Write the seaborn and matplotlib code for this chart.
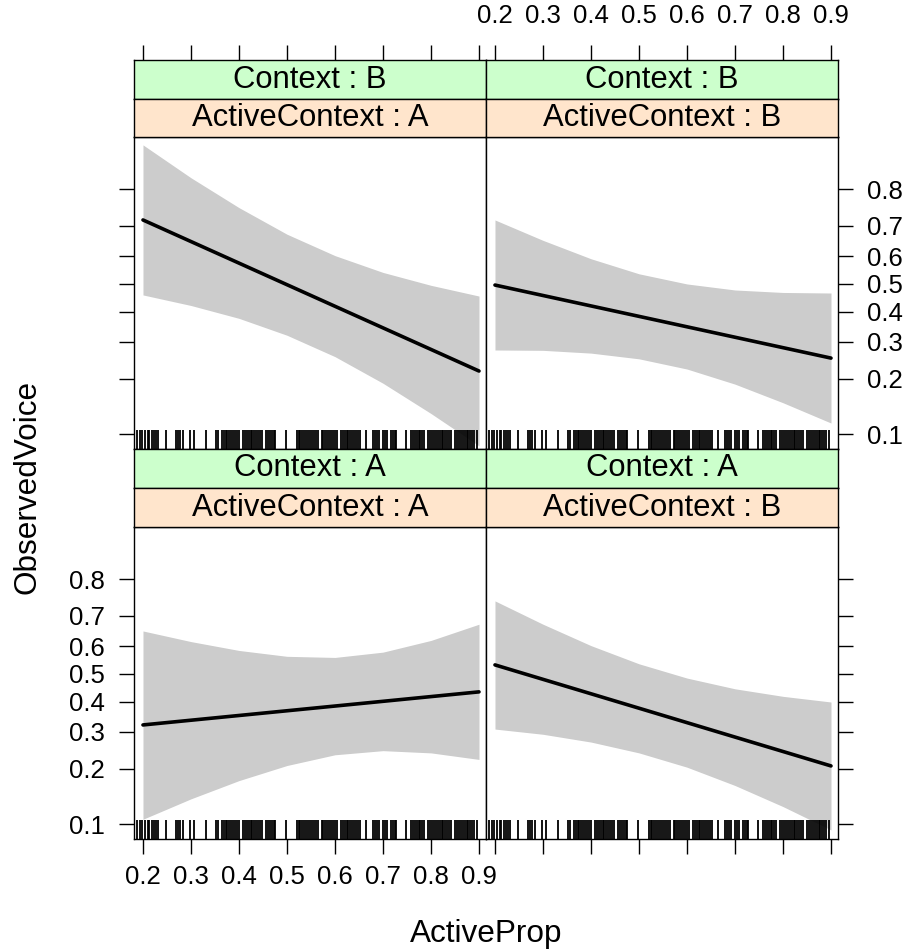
import numpy as np
import pandas as pd
import matplotlib
matplotlib.use("Agg")
import matplotlib.pyplot as plt
import seaborn as sns
from matplotlib.ticker import NullLocator, FixedLocator, FixedFormatter

# ---------------- data ----------------
x_grid = [0.2, 0.3, 0.4, 0.5, 0.6, 0.7, 0.8, 0.9]
fit_x = [0.2, 0.9]
x_ticks = [0.2, 0.3, 0.4, 0.5, 0.6, 0.7, 0.8, 0.9]
x_tick_labels = ["0.2", "0.3", "0.4", "0.5", "0.6", "0.7", "0.8", "0.9"]
y_ticks = [0.1, 0.2, 0.3, 0.4, 0.5, 0.6, 0.7, 0.8]
y_tick_labels = ["0.1", "0.2", "0.3", "0.4", "0.5", "0.6", "0.7", "0.8"]

context = ["B", "B", "A", "A"]
active_context = ["A", "B", "A", "B"]

# panel Context B / ActiveContext A
fit_BA = [0.718, 0.219]
upper_BA = [0.884, 0.825, 0.753, 0.674, 0.602, 0.542, 0.495, 0.456]
lower_BA = [0.460, 0.422, 0.377, 0.321, 0.257, 0.190, 0.131, 0.086]
# panel Context B / ActiveContext B
fit_BB = [0.496, 0.253]
upper_BB = [0.718, 0.654, 0.591, 0.537, 0.500, 0.478, 0.469, 0.467]
lower_BB = [0.276, 0.275, 0.267, 0.251, 0.224, 0.188, 0.150, 0.116]
# panel Context A / ActiveContext A
fit_AA = [0.322, 0.435]
upper_AA = [0.652, 0.616, 0.585, 0.564, 0.560, 0.579, 0.620, 0.674]
lower_AA = [0.107, 0.139, 0.174, 0.208, 0.235, 0.246, 0.240, 0.223]
# panel Context A / ActiveContext B
fit_AB = [0.533, 0.207]
upper_AB = [0.744, 0.674, 0.602, 0.537, 0.485, 0.446, 0.419, 0.399]
lower_AB = [0.309, 0.293, 0.270, 0.240, 0.204, 0.164, 0.126, 0.093]

rug_x = [0.188, 0.194, 0.198, 0.204, 0.210, 0.213, 0.218, 0.222, 0.227, 0.232,
         0.248, 0.268, 0.272, 0.277, 0.284, 0.299, 0.307, 0.331,
         0.352, 0.356, 0.364, 0.368, 0.372, 0.376, 0.380, 0.384, 0.388, 0.392,
         0.396, 0.400, 0.408, 0.412, 0.416, 0.420, 0.424, 0.428, 0.432, 0.436,
         0.440, 0.444, 0.448, 0.456, 0.460, 0.464, 0.468, 0.472, 0.476,
         0.498,
         0.520, 0.524, 0.528, 0.532, 0.536, 0.540, 0.544, 0.548, 0.552, 0.556,
         0.560, 0.564, 0.572, 0.576, 0.580, 0.584, 0.588, 0.592, 0.596, 0.600,
         0.604, 0.612, 0.616, 0.620, 0.624, 0.628, 0.632, 0.636, 0.640, 0.644,
         0.648, 0.652,
         0.665,
         0.680, 0.684, 0.688, 0.692, 0.700, 0.704, 0.708, 0.716, 0.720, 0.724, 0.728,
         0.748,
         0.758, 0.762, 0.766, 0.770, 0.774, 0.778, 0.782, 0.786, 0.794, 0.798,
         0.802, 0.806, 0.810, 0.814, 0.818, 0.822, 0.826, 0.830, 0.834, 0.838,
         0.842, 0.850, 0.854, 0.858, 0.862, 0.866, 0.870, 0.874, 0.878, 0.882,
         0.886, 0.890, 0.896]

fits = [fit_BA, fit_BB, fit_AA, fit_AB]
uppers = [upper_BA, upper_BB, upper_AA, upper_AB]
lowers = [lower_BA, lower_BB, lower_AA, lower_AB]

# ---------------- style ----------------
TICK_FS = 18.5
STRIP_FS = 22.3
TITLE_FS = 22.7
TICK_LEN = 10.8
BORDER_LW = 1.0

sns.set_style("white")
plt.rcParams["font.family"] = ["Liberation Sans", "DejaVu Sans"]
plt.rcParams.update({
    "text.color": "black", "axes.labelcolor": "black",
    "xtick.color": "black", "ytick.color": "black",
    "xtick.labelsize": TICK_FS, "ytick.labelsize": TICK_FS,
    "axes.edgecolor": "black",
})

W, H = 907, 949
fig = plt.figure(figsize=(W / 100, H / 100), dpi=100)

XLIM = (0.1813, 0.9146)
YLIM = (0.0824, 0.8953)

GREEN = "#CCFFCC"
ORANGE = "#FFE5CC"
BAND = "#CCCCCC"

col_left = [134, 486]
col_w = 352
rows = [(60, 99, 137, 449), (449, 488, 527, 839)]


def frect(x0, y0, x1, y1):
    return [x0 / W, 1 - y1 / H, (x1 - x0) / W, (y1 - y0) / H]


def style_spines(a):
    for sp in a.spines.values():
        sp.set_visible(True)
        sp.set_color("black")
        sp.set_linewidth(BORDER_LW)


def set_label_size(a):
    for lab in a.get_xticklabels() + a.get_yticklabels():
        lab.set_fontsize(TICK_FS)
        lab.set_color("black")


for i in range(4):
    r, c = divmod(i, 2)
    gt, ot, pt, pb = rows[r]
    x0 = col_left[c]
    x1 = x0 + col_w

    ax = fig.add_axes(frect(x0, pt, x1, pb))
    ax.set_yscale("logit")
    ax.set_xlim(*XLIM)
    ax.set_ylim(*YLIM)

    ax.fill_between(x_grid, lowers[i], uppers[i], color=BAND, lw=0, zorder=1)
    df = pd.DataFrame({"ActiveProp": fit_x, "ObservedVoice": fits[i]})
    sns.lineplot(data=df, x="ActiveProp", y="ObservedVoice", ax=ax,
                 color="black", linewidth=2.6, zorder=3)
    sns.rugplot(x=rug_x, ax=ax, height=0.062, color="black", linewidth=1.3,
                alpha=1, zorder=4)
    ax.set_xlabel("")
    ax.set_ylabel("")
    ax.set_yscale("logit")
    ax.set_xlim(*XLIM)
    ax.set_ylim(*YLIM)

    ax.yaxis.set_major_locator(FixedLocator(y_ticks))
    ax.yaxis.set_major_formatter(FixedFormatter(y_tick_labels))
    ax.yaxis.set_minor_locator(NullLocator())
    ax.xaxis.set_major_locator(FixedLocator(x_ticks))
    ax.xaxis.set_major_formatter(FixedFormatter(x_tick_labels))
    ax.xaxis.set_minor_locator(NullLocator())

    ax.tick_params(axis="both", which="major", direction="out", length=TICK_LEN,
                   width=1.0, color="black", labelsize=TICK_FS, labelcolor="black")
    if r == 1:
        ax.tick_params(axis="x", bottom=True, top=False,
                       labelbottom=(c == 0), labeltop=False, pad=8)
    else:
        ax.tick_params(axis="x", bottom=False, top=False,
                       labelbottom=False, labeltop=False)
    if c == 0:
        ax.tick_params(axis="y", left=True, right=False,
                       labelleft=(r == 1), labelright=False, pad=10)
    else:
        ax.tick_params(axis="y", left=False, right=True,
                       labelleft=False, labelright=(r == 0), pad=10)
    style_spines(ax)
    ax.grid(False)
    set_label_size(ax)

    for (yt, yb, colr, txt) in [(gt, ot, GREEN, f"Context : {context[i]}"),
                                 (ot, pt, ORANGE, f"ActiveContext : {active_context[i]}")]:
        s = fig.add_axes(frect(x0, yt, x1, yb))
        s.set_facecolor(colr)
        s.set_xlim(*XLIM)
        s.set_ylim(0, 1)
        s.set_yticks([])
        s.text(0.5, 0.5, txt, transform=s.transAxes, ha="center", va="center",
               fontsize=STRIP_FS, color="black")
        style_spines(s)
        s.grid(False)
        if r == 0 and colr == GREEN:
            s.xaxis.set_major_locator(FixedLocator(x_ticks))
            s.xaxis.set_major_formatter(FixedFormatter(x_tick_labels))
            s.tick_params(axis="x", direction="out", length=TICK_LEN, width=1.0,
                          color="black", labelsize=TICK_FS, bottom=False,
                          labelbottom=False, top=True, labeltop=(c == 1), pad=12)
            set_label_size(s)
        else:
            s.set_xticks([])

fig.text(486.5 / W, 1 - 934 / H, "ActiveProp", ha="center", va="center",
         fontsize=TITLE_FS, color="black")
fig.text(28 / W, 1 - 487 / H, "ObservedVoice", ha="center", va="center",
         rotation=90, fontsize=TITLE_FS, color="black")

fig.savefig("out.png", dpi=100, facecolor="white")
